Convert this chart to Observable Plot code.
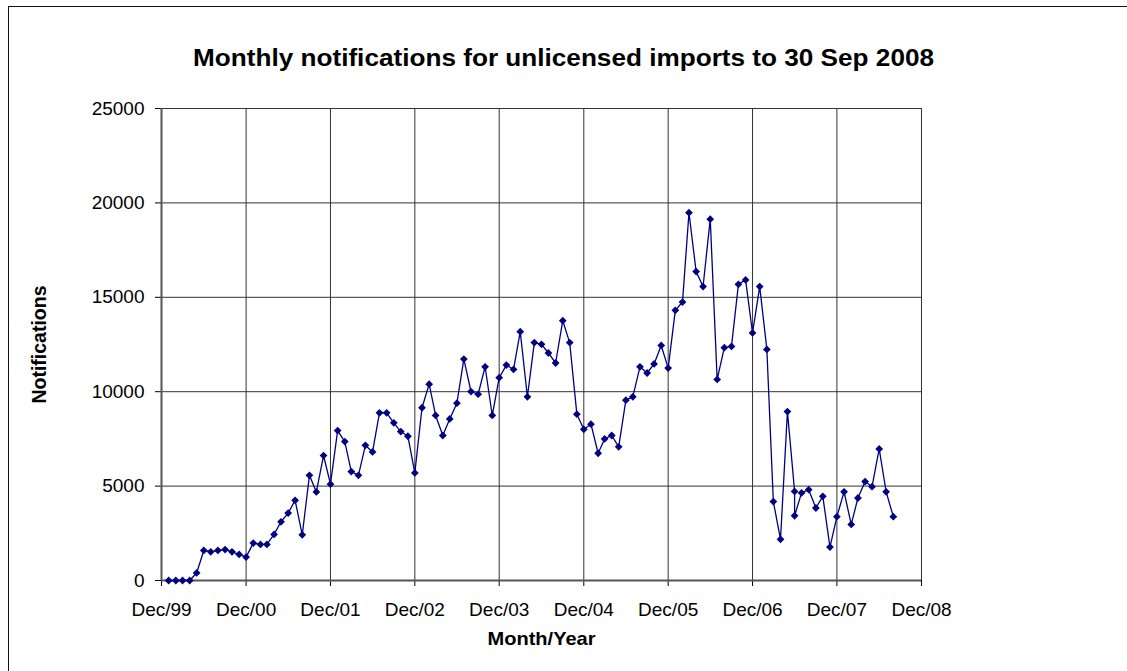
<!DOCTYPE html>
<html>
<head>
<meta charset="utf-8">
<script src="https://cdn.jsdelivr.net/npm/d3@7"></script>
<script src="https://cdn.jsdelivr.net/npm/@observablehq/plot@0.6"></script>
<style>
  html, body { margin: 0; padding: 0; background: #fff; overflow: hidden; }
  #wrap { position: relative; width: 1127px; height: 671px; }
  #chart { position: absolute; left: 0; top: 0; }
  #frame { position: absolute; left: 8px; top: 6px; width: 1200px; height: 800px;
           border-left: 1px solid #111; border-top: 1px solid #111; pointer-events: none; }
</style>
</head>
<body>
<div id="wrap"><div id="chart"></div><div id="frame"></div></div>
<script>
const title = "Monthly notifications for unlicensed imports to 30 Sep 2008";
const yLabel = "Notifications";
const xLabel = "Month/Year";

const months = [
  "2000-01","2000-02","2000-03","2000-04","2000-05","2000-06","2000-07","2000-08","2000-09","2000-10","2000-11","2000-12",
  "2001-01","2001-02","2001-03","2001-04","2001-05","2001-06","2001-07","2001-08","2001-09","2001-10","2001-11","2001-12",
  "2002-01","2002-02","2002-03","2002-04","2002-05","2002-06","2002-07","2002-08","2002-09","2002-10","2002-11","2002-12",
  "2003-01","2003-02","2003-03","2003-04","2003-05","2003-06","2003-07","2003-08","2003-09","2003-10","2003-11","2003-12",
  "2004-01","2004-02","2004-03","2004-04","2004-05","2004-06","2004-07","2004-08","2004-09","2004-10","2004-11","2004-12",
  "2005-01","2005-02","2005-03","2005-04","2005-05","2005-06","2005-07","2005-08","2005-09","2005-10","2005-11","2005-12",
  "2006-01","2006-02","2006-03","2006-04","2006-05","2006-06","2006-07","2006-08","2006-09","2006-10","2006-11","2006-12",
  "2007-01","2007-02","2007-03","2007-04","2007-05","2007-06","2007-06","2007-07","2007-08","2007-09","2007-10","2007-11","2007-12",
  "2008-01","2008-02","2008-03","2008-04","2008-05","2008-06","2008-07","2008-08"
];

const notifications = [
  0, 0, 0, 0, 400, 1590, 1520, 1590, 1640, 1520, 1380, 1240,
  1980, 1910, 1910, 2440, 3110, 3570, 4250, 2420, 5570, 4690, 6620, 5100,
  7940, 7360, 5770, 5570, 7160, 6810, 8880, 8880, 8350, 7890, 7640, 5700,
  9150, 10400, 8740, 7680, 8560, 9390, 11730, 10010, 9870, 11320, 8740, 10740,
  11410, 11180, 13180, 9730, 12600, 12510, 12050, 11520, 13760, 12600, 8810, 8010,
  8280, 6740, 7500, 7680, 7080, 9550, 9730, 11320, 10990, 11470, 12450, 11250,
  14310, 14750, 19480, 16360, 15570, 19140, 10650, 12330, 12400, 15690, 15920, 13110,
  15570, 12240, 4180, 2180, 8950, 4720, 3430, 4640, 4810, 3840, 4460, 1770, 3380,
  4700, 2970, 4370, 5240, 4970, 6970, 4700, 3380
];

const xTickMonths = ["1999-12","2000-12","2001-12","2002-12","2003-12","2004-12","2005-12","2006-12","2007-12","2008-12"];
const yTicks = [0, 5000, 10000, 15000, 20000, 25000];

const parseMonth = d3.utcParse("%Y-%m");
const data = months.map((m, i) => ({date: parseMonth(m), value: notifications[i]}));
const xTicks = xTickMonths.map(parseMonth);

const navy = "#000080";

const chart = Plot.plot({
  width: 1127,
  height: 671,
  marginLeft: 161,
  marginRight: 206,
  marginTop: 108,
  marginBottom: 91,
  style: {
    fontFamily: "Arial, 'Liberation Sans', sans-serif",
    fontSize: "19px",
    color: "#000",
    background: "transparent",
    overflow: "visible"
  },
  x: {
    type: "utc",
    domain: [xTicks[0], xTicks[xTicks.length - 1]],
    ticks: xTicks,
    tickFormat: d3.utcFormat("%b/%y"),
    tickSize: 6,
    tickPadding: 15.5,
    label: null
  },
  y: {
    domain: [0, 25000],
    ticks: yTicks,
    tickFormat: d3.format("d"),
    tickSize: 6,
    tickPadding: 11,
    label: null
  },
  marks: [
    Plot.ruleY(yTicks.slice(1), {stroke: "#333", strokeWidth: 1}),
    Plot.ruleX(xTicks.slice(1), {stroke: "#333", strokeWidth: 1}),
    Plot.ruleY([0], {stroke: "#555", strokeWidth: 2}),
    Plot.ruleX([xTicks[0]], {stroke: "#555", strokeWidth: 2}),
    Plot.line(data, {x: "date", y: "value", stroke: navy, strokeWidth: 1.3}),
    Plot.dot(data, {x: "date", y: "value", symbol: "diamond2", r: 3.5, fill: navy, stroke: "none"}),
    Plot.text([title], {text: d => d, frameAnchor: "top", textAnchor: "middle", dx: 22, dy: -58.7, fontSize: 23, fontWeight: "bold", fill: "#000"}),
    Plot.text([xLabel], {text: d => d, frameAnchor: "bottom", textAnchor: "middle", dy: 64, fontSize: 19, fontWeight: "bold", fill: "#000"}),
    Plot.text([yLabel], {text: d => d, frameAnchor: "left", textAnchor: "middle", dx: -122, rotate: -90, fontSize: 19.5, fontWeight: "bold", fill: "#000"})
  ]
});

document.getElementById("chart").appendChild(chart);

// stretch the horizontal label texts to the widths seen in the reference
const lengths = new Map([[title, 741], [xLabel, 108]]);
chart.querySelectorAll("text").forEach(t => {
  const L = lengths.get(t.textContent);
  if (L) { t.setAttribute("textLength", L); t.setAttribute("lengthAdjust", "spacingAndGlyphs"); }
});
</script>
</body>
</html>
